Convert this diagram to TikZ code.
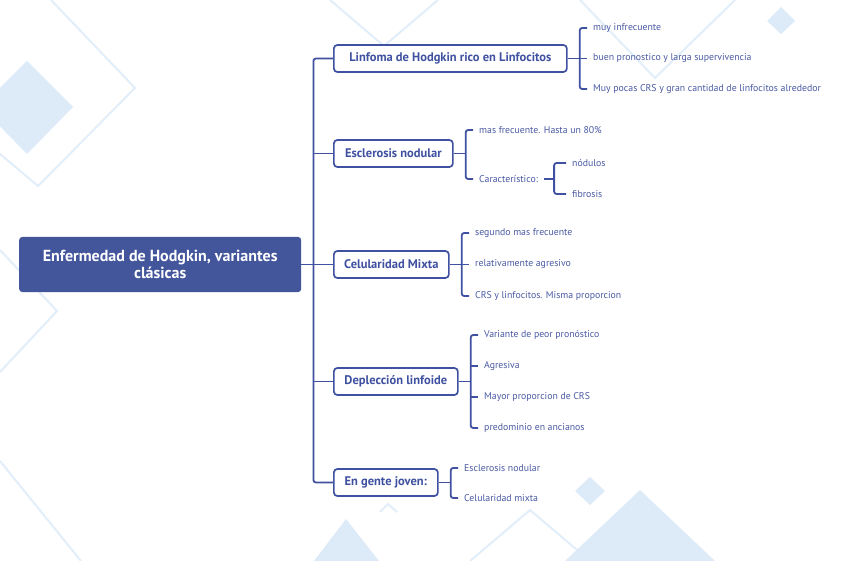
\documentclass[tikz,border=0pt]{standalone}
\usepackage{fontspec}
\setmainfont{PT Sans}
\definecolor{mblue}{HTML}{3F51A0}
\definecolor{rootblue}{HTML}{43569C}
\definecolor{leafblue}{HTML}{4A5AA3}
\definecolor{deco}{HTML}{DDEBF9}
\definecolor{decoline}{HTML}{E2EEFA}
\begin{document}
\begin{tikzpicture}[x=1pt,y=-1pt,
 rootbox/.style={fill=rootblue, rounded corners=3pt, text=white, font=\bfseries\fontsize{16}{17.5}\selectfont, align=center, minimum width=282pt, minimum height=55pt, inner sep=0pt, anchor=west},
 branch/.style={draw=mblue, line width=1.7pt, rounded corners=3.5pt, fill=white, text=mblue, font=\bfseries\fontsize{12.5}{14}\selectfont, minimum height=27pt, inner xsep=5pt, anchor=west},
 leaf/.style={text=leafblue, font=\fontsize{9.8}{11}\selectfont, anchor=west, inner xsep=6pt, inner ysep=1pt},
 conn/.style={draw=mblue, line width=1.8pt, rounded corners=2.5pt},
 decofill/.style={fill=deco},
 decoedge/.style={draw=decoline, line width=2pt}]
\useasboundingbox (0,0) rectangle (848,561);
\fill[white] (0,0) rectangle (848,561);
% background decoration
\fill[decofill] (27,61) -- (73,107) -- (27,154) -- (-19,107) -- cycle;
\draw[decoedge] (51,0) -- (135,88) -- (38,186) -- (0,154);
\draw[decoedge] (0,250) -- (57,311) -- (0,372);
\draw[decoedge] (0,461) -- (81,561);
\draw[decoedge] (330,0) -- (384,46) -- (438,0);
\draw[decoedge] (580,0) -- (655,78) -- (735,0);
\fill[decofill] (781,7) -- (795,21) -- (781,34) -- (767,21) -- cycle;
\fill[decofill] (590,477) -- (605,491) -- (590,505) -- (575,491) -- cycle;
\fill[decofill] (346,519) -- (379,561) -- (314,561) -- cycle;
\draw[decoedge] (380,512) -- (388,504) -- (397,512);
\draw[decoedge] (470,561) -- (530,510) -- (590,561);
\fill[decofill] (640,490) -- (715,561) -- (565,561) -- cycle;
% root
\node[rootbox] (root) at (19,264.5) {Enfermedad de Hodgkin, variantes\\clásicas};
% branches
\node[branch, minimum width=233pt] (b1) at (333,58.5) {Linfoma de Hodgkin rico en Linfocitos};
\node[branch, minimum width=119pt] (b2) at (333,153.5) {Esclerosis nodular};
\node[branch, minimum width=115pt] (b3) at (333,264.5) {Celularidad Mixta};
\node[branch, minimum width=124pt] (b4) at (333,381.5) {Deplección linfoide};
\node[branch, minimum width=104pt] (b5) at (333,482.5) {En gente joven:};
% trunk
\path (root.east) ++(12,0) coordinate (t0);
\draw[conn] (root.east) -- (t0);
\draw[conn] (b1.west) -| (t0) |- (b5.west);
\foreach \b in {b2,b3,b4}{\draw[conn] (t0 |- \b.west) -- (\b.west);}
% leaves of b1
\node[leaf] (l11) at (587,28) {muy infrecuente};
\node[leaf] (l12) at (587,58.5) {buen pronostico y larga supervivencia};
\node[leaf] (l13) at (587,89) {Muy pocas CRS y gran cantidad de linfocitos alrededor};
\path (b1.east) ++(12,0) coordinate (k1);
\draw[conn] (b1.east) -- (k1);
\draw[conn] (l11.west) -| (k1) |- (l13.west);
\draw[conn] (k1 |- l12.west) -- (l12.west);
% leaves of b2
\node[leaf] (l21) at (473,130) {mas frecuente. Hasta un 80\%};
\node[leaf] (l22) at (473,179) {Característico:};
\path (b2.east) ++(12,0) coordinate (k2);
\draw[conn] (b2.east) -- (k2);
\draw[conn] (l21.west) -| (k2) |- (l22.west);
\node[leaf] (l221) at (566,163) {nódulos};
\node[leaf] (l222) at (566,194) {fibrosis};
\path (l22.east) ++(10,0) coordinate (k22);
\draw[conn] (l22.east) -- (k22);
\draw[conn] (l221.west) -| (k22) |- (l222.west);
% leaves of b3
\node[leaf] (l31) at (469,233) {segundo mas frecuente};
\node[leaf] (l32) at (469,264.5) {relativamente agresivo};
\node[leaf] (l33) at (469,296) {CRS y linfocitos. Misma proporcion};
\path (b3.east) ++(12,0) coordinate (k3);
\draw[conn] (b3.east) -- (k3);
\draw[conn] (l31.west) -| (k3) |- (l33.west);
\draw[conn] (k3 |- l32.west) -- (l32.west);
% leaves of b4
\node[leaf] (l41) at (478,335) {Variante de peor pronóstico};
\node[leaf] (l42) at (478,366) {Agresiva};
\node[leaf] (l43) at (478,397) {Mayor proporcion de CRS};
\node[leaf] (l44) at (478,428) {predominio en ancianos};
\path (b4.east) ++(12,0) coordinate (k4);
\draw[conn] (b4.east) -- (k4);
\draw[conn] (l41.west) -| (k4) |- (l44.west);
\foreach \l in {l42,l43}{\draw[conn] (k4 |- \l.west) -- (\l.west);}
% leaves of b5
\node[leaf] (l51) at (458,468) {Esclerosis nodular};
\node[leaf] (l52) at (458,498) {Celularidad mixta};
\path (b5.east) ++(12,0) coordinate (k5);
\draw[conn] (b5.east) -- (k5);
\draw[conn] (l51.west) -| (k5) |- (l52.west);
\end{tikzpicture}
\end{document}
